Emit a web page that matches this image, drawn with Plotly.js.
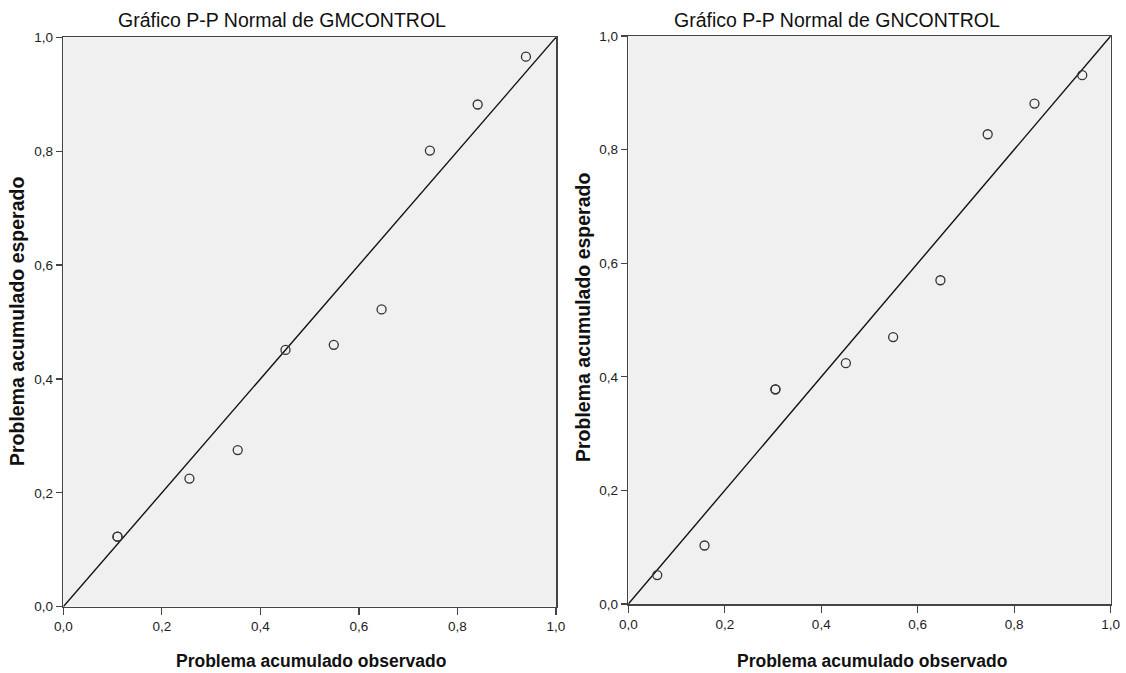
<!DOCTYPE html>
<html>
<head>
<meta charset="utf-8">
<script src="https://cdn.plot.ly/plotly-3.0.1.min.js"></script>
<style>html,body{margin:0;padding:0;background:#fff;}#chart{width:1126px;height:673px;}</style>
</head>
<body>
<div id="chart"></div>
<script>
// Left panel: GMCONTROL
const obsGM = [0.110, 0.110, 0.256, 0.354, 0.451, 0.549, 0.646, 0.744, 0.841, 0.939];
const expGM = [0.123, 0.123, 0.225, 0.275, 0.451, 0.460, 0.522, 0.801, 0.882, 0.966];
// Right panel: GNCONTROL
const obsGN = [0.060, 0.158, 0.305, 0.305, 0.451, 0.549, 0.647, 0.745, 0.842, 0.941];
const expGN = [0.051, 0.103, 0.378, 0.378, 0.424, 0.470, 0.570, 0.827, 0.881, 0.931];
// Reference diagonal
const diagX = [0, 1];
const diagY = [0, 1];
const tickVals = [0, 0.2, 0.4, 0.6, 0.8, 1.0];
const titles = ['Gráfico P-P Normal de GMCONTROL', 'Gráfico P-P Normal de GNCONTROL'];
const xTitle = 'Problema acumulado observado';
const yTitle = 'Problema acumulado esperado';

const FONT = 'Liberation Sans, Arial, sans-serif';
const marker = {symbol: 'circle-open', size: 9, color: '#333', line: {width: 1.3, color: '#333'}};
const lineStyle = {color: '#111', width: 1.4};

const traces = [
  {x: diagX, y: diagY, type: 'scatter', mode: 'lines', line: lineStyle, xaxis: 'x', yaxis: 'y', hoverinfo: 'skip'},
  {x: obsGM, y: expGM, type: 'scatter', mode: 'markers', marker: marker, xaxis: 'x', yaxis: 'y'},
  {x: diagX, y: diagY, type: 'scatter', mode: 'lines', line: lineStyle, xaxis: 'x2', yaxis: 'y2', hoverinfo: 'skip'},
  {x: obsGN, y: expGN, type: 'scatter', mode: 'markers', marker: marker, xaxis: 'x2', yaxis: 'y2'}
];

function ax(domain, anchor, tlen) {
  return {
    domain: domain, anchor: anchor, range: [0, 1], tickvals: tickVals, tickformat: '.1f',
    showgrid: false, zeroline: false, showline: true, mirror: true,
    linecolor: '#444', linewidth: 1.5, ticks: 'outside', ticklen: tlen, tickwidth: 1.2, tickcolor: '#444',
    tickfont: {family: FONT, size: 13.5, color: '#222'}, fixedrange: true
  };
}

const W = 1126, H = 673;
const layout = {
  width: W, height: H, margin: {l: 0, r: 0, t: 0, b: 0},
  paper_bgcolor: '#fff', plot_bgcolor: '#f0f0f0', showlegend: false,
  separators: ',.',
  xaxis: ax([63.3 / W, 556 / W], 'y', 7),
  yaxis: ax([1 - 606.7 / H, 1 - 37.3 / H], 'x', 6),
  xaxis2: ax([628.3 / W, 1110.7 / W], 'y2', 7),
  yaxis2: ax([1 - 604 / H, 1 - 36 / H], 'x2', 6),
  annotations: [
    {text: titles[0], x: 282 / W, y: 1 - 20 / H, xref: 'paper', yref: 'paper', showarrow: false, xanchor: 'center', yanchor: 'middle', font: {family: FONT, size: 19.5, color: '#111'}},
    {text: titles[1], x: 837 / W, y: 1 - 20 / H, xref: 'paper', yref: 'paper', showarrow: false, xanchor: 'center', yanchor: 'middle', font: {family: FONT, size: 19.5, color: '#111'}},
    {text: '<b>' + xTitle + '</b>', x: 311 / W, y: 1 - 661 / H, xref: 'paper', yref: 'paper', showarrow: false, xanchor: 'center', yanchor: 'middle', font: {family: FONT, size: 17.5, color: '#111'}},
    {text: '<b>' + xTitle + '</b>', x: 872 / W, y: 1 - 661 / H, xref: 'paper', yref: 'paper', showarrow: false, xanchor: 'center', yanchor: 'middle', font: {family: FONT, size: 17.5, color: '#111'}},
    {text: '<b>' + yTitle + '</b>', x: 17 / W, y: 1 - 322 / H, xref: 'paper', yref: 'paper', showarrow: false, textangle: -90, xanchor: 'center', yanchor: 'middle', font: {family: FONT, size: 19.5, color: '#111'}},
    {text: '<b>' + yTitle + '</b>', x: 583 / W, y: 1 - 318 / H, xref: 'paper', yref: 'paper', showarrow: false, textangle: -90, xanchor: 'center', yanchor: 'middle', font: {family: FONT, size: 19.5, color: '#111'}}
  ]
};

Plotly.newPlot('chart', traces, layout, {displayModeBar: false, staticPlot: true});
</script>
</body>
</html>
